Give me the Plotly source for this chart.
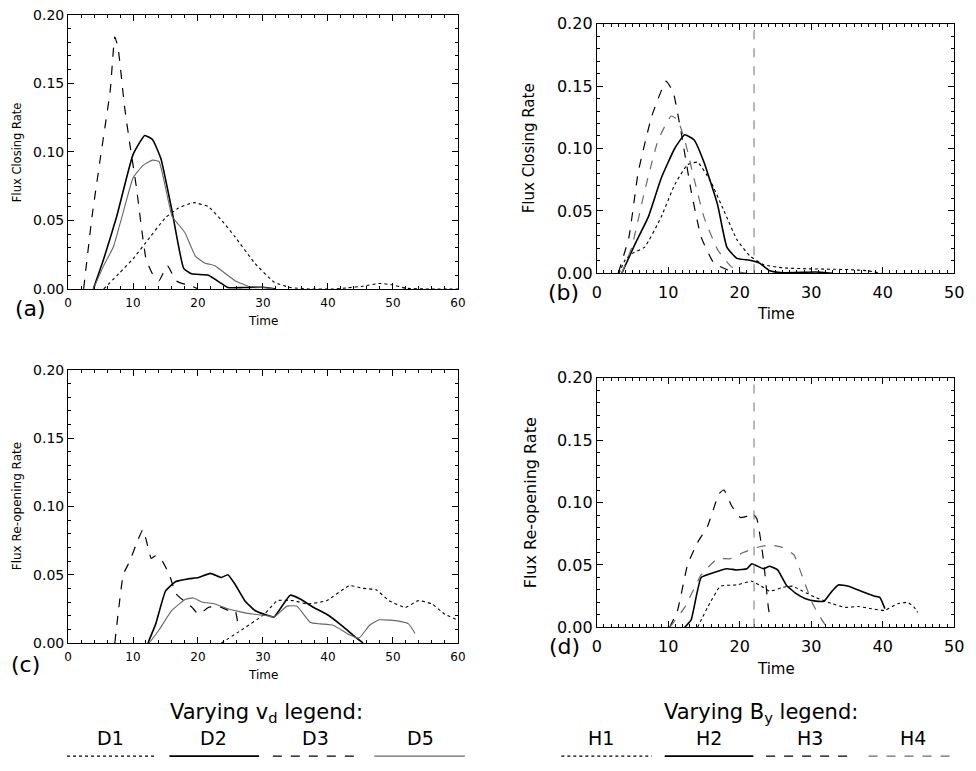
import plotly.graph_objects as go

W, H = 976, 771

# ---- panel (a): flux closing rate, varying v_d ----
a_d1_t = [5.5, 8, 10, 12, 15, 17, 19.3, 21.6, 24, 25.7, 28.7, 31.7, 34.2, 37, 40.8, 43, 45.4, 47.9, 49.9, 52, 55, 60]
a_d1_v = [0, 0.012, 0.022, 0.034, 0.052, 0.059, 0.063, 0.060, 0.048, 0.038, 0.019, 0.005, 0.001, 0, 0, 0.0008, 0.002, 0.004, 0.003, 0.0005, 0, 0]
a_d2_t = [3.9, 5.5, 7.5, 10, 11.8, 13, 14.3, 16, 17.8, 19, 21.6, 23.6, 24.6, 27, 30, 32]
a_d2_v = [0, 0.022, 0.053, 0.098, 0.112, 0.109, 0.095, 0.057, 0.015, 0.011, 0.010, 0.004, 0.001, 0.001, 0.0012, 0]
a_d3_t = [2.4, 3.7, 4.9, 6.5, 7.2, 7.7, 8.7, 9.5, 10.5, 11.3, 12, 13, 14, 15.3, 16.6, 17.5, 18.6, 20]
a_d3_v = [0, 0.053, 0.093, 0.145, 0.184, 0.176, 0.133, 0.106, 0.075, 0.045, 0.022, 0.011, 0.006, 0.017, 0.006, 0.004, 0.003, 0]
a_d5_t = [3.9, 5.5, 7, 8.5, 10, 11.5, 13, 14, 15, 16, 17, 18, 19.6, 21, 22.6, 24, 25.7, 27.7, 30, 31.7]
a_d5_v = [0, 0.017, 0.031, 0.056, 0.081, 0.090, 0.094, 0.093, 0.074, 0.053, 0.047, 0.041, 0.024, 0.019, 0.017, 0.012, 0.006, 0.002, 0.001, 0]

# ---- panel (b): flux closing rate, varying B_y ----
b_h1_t = [3.1, 4, 5, 6.7, 9, 10.9, 12.7, 14.1, 15.9, 17.8, 19.6, 21.4, 23.3, 26, 29.7, 35.2, 38, 39.8]
b_h1_v = [0, 0.011, 0.016, 0.021, 0.045, 0.071, 0.087, 0.089, 0.074, 0.050, 0.027, 0.014, 0.007, 0.0044, 0.0036, 0.003, 0.002, 0]
b_h2_t = [3.5, 5.4, 7.2, 9, 10.9, 12.3, 13.6, 15, 16.9, 18.2, 19.6, 21.4, 22.8, 24.2, 26, 30.6, 33]
b_h2_v = [0, 0.024, 0.045, 0.076, 0.100, 0.111, 0.107, 0.089, 0.055, 0.021, 0.012, 0.0104, 0.008, 0.002, 0.0005, 0.001, 0]
b_h3_t = [3, 4.5, 5.8, 7.7, 9.7, 10.7, 11.8, 13.2, 14.6, 16.4, 18.2, 19.6]
b_h3_v = [0, 0.029, 0.081, 0.126, 0.154, 0.145, 0.113, 0.066, 0.029, 0.008, 0.003, 0]
b_h4_t = [3.5, 4.9, 6.7, 8.6, 10.4, 11.3, 12.3, 13.6, 15, 16.9, 18.7, 20, 21]
b_h4_v = [0, 0.021, 0.066, 0.107, 0.126, 0.123, 0.107, 0.076, 0.045, 0.019, 0.006, 0.001, 0]

# ---- panel (c): flux re-opening rate, varying v_d ----
c_d1_t = [23.6, 26.7, 30.2, 32.2, 34.7, 36.8, 39.8, 43.3, 45.4, 47.4, 49.4, 51.9, 53.9, 56, 58, 60]
c_d1_v = [0, 0.0095, 0.021, 0.031, 0.031, 0.0286, 0.031, 0.042, 0.040, 0.039, 0.031, 0.026, 0.031, 0.0286, 0.021, 0.0167]
c_d2_t = [12.3, 13.5, 15, 16.6, 18.6, 20.1, 21.9, 23.6, 24.6, 25.7, 27.2, 28.7, 30.2, 31.7, 34.2, 35.8, 37.8, 39.8, 41.8, 43.8, 45.4]
c_d2_v = [0, 0.014, 0.038, 0.045, 0.047, 0.048, 0.051, 0.048, 0.050, 0.043, 0.031, 0.024, 0.021, 0.019, 0.035, 0.032, 0.026, 0.021, 0.014, 0.006, 0]
c_d3_t = [7.2, 7.7, 8.5, 9.5, 10.8, 11.5, 12, 12.8, 13.5, 14.5, 15.6, 16.6, 17.8, 19.1, 20.1, 21.6, 23.1, 24.6, 25.7, 26.2]
c_d3_v = [0, 0.021, 0.050, 0.060, 0.076, 0.083, 0.076, 0.062, 0.064, 0.060, 0.050, 0.036, 0.031, 0.026, 0.021, 0.026, 0.027, 0.024, 0.024, 0.012]
c_d5_t = [12.5, 14, 16, 18.1, 19.3, 20.6, 22.6, 24.6, 26.7, 28.7, 30.7, 31.7, 33.7, 35.2, 37.3, 38.8, 40.8, 43.3, 44.8, 46.4, 47.9, 50.9, 52.4, 53.4]
c_d5_v = [0, 0.0095, 0.024, 0.032, 0.033, 0.030, 0.0286, 0.025, 0.0226, 0.021, 0.020, 0.019, 0.027, 0.027, 0.015, 0.014, 0.013, 0.006, 0.0036, 0.013, 0.017, 0.016, 0.014, 0.007]

# ---- panel (d): flux re-opening rate, varying B_y ----
d_h1_t = [14.1, 15.5, 17.3, 19.6, 21.7, 23.3, 24.2, 26, 27.4, 28.8, 30.6, 32.9, 34.8, 36.6, 38.4, 40.3, 42.1, 43.5, 44.4, 44.9]
d_h1_v = [0, 0.016, 0.033, 0.034, 0.037, 0.032, 0.029, 0.032, 0.033, 0.029, 0.024, 0.019, 0.016, 0.0167, 0.015, 0.0136, 0.019, 0.020, 0.016, 0.012]
d_h2_t = [12.3, 13.2, 14.6, 16.4, 18.2, 19.6, 21, 21.7, 23.3, 24.2, 25.3, 26.5, 27.9, 29.2, 30.6, 31.8, 32.9, 33.8, 35.2, 37, 38.9, 39.6, 40.3]
d_h2_v = [0, 0.006, 0.040, 0.044, 0.047, 0.046, 0.047, 0.051, 0.047, 0.049, 0.046, 0.034, 0.027, 0.023, 0.021, 0.021, 0.029, 0.034, 0.033, 0.029, 0.025, 0.024, 0.015]
d_h3_t = [10.2, 11.3, 12.7, 14.1, 15.5, 17.1, 17.8, 18.9, 20.1, 21, 21.7, 22.4, 23.3, 24, 24.3]
d_h3_v = [0, 0.0136, 0.050, 0.068, 0.081, 0.107, 0.110, 0.097, 0.088, 0.089, 0.092, 0.087, 0.055, 0.016, 0.006]
d_h4_t = [10.2, 12.3, 14.6, 16.9, 18.7, 20.5, 22.4, 24.2, 26, 27.6, 28.8, 30.2, 31.5, 32.2]
d_h4_v = [0, 0.016, 0.042, 0.055, 0.055, 0.060, 0.064, 0.066, 0.064, 0.058, 0.040, 0.019, 0.006, 0]

marker_time = 22  # vertical dashed line in (b) and (d)

FONT = "DejaVu Sans, sans-serif"

STY = {
    "dot": dict(color="black", width=1.1, dash="dot"),
    "solid": dict(color="black", width=1.6),
    "dash": dict(color="black", width=1.2, dash="dash"),
    "grey": dict(color="#666666", width=1.1),
    "greydash": dict(color="#6a6a6a", width=1.2, dash="dash"),
}


def px_x(x):
    return x / W


def px_y(y):
    return 1 - y / H


def label(text, x, y, size, angle=0):
    fig.add_annotation(text=text, x=px_x(x), y=px_y(y), xref="paper", yref="paper", showarrow=False,
                       xanchor="center", yanchor="middle", textangle=angle,
                       font=dict(family=FONT, size=size, color="black"))


fig = go.Figure()

panels = [
    dict(suf="", series=[(a_d1_t, a_d1_v, "dot"), (a_d2_t, a_d2_v, "solid"), (a_d3_t, a_d3_v, "dash"), (a_d5_t, a_d5_v, "grey")],
         box=(64, 460, 6, 287), xmax=60, xminor=2, xfs=12, yfs=14, xsd=3,
         ytitle="Flux Closing Rate", yt=(13, 147, 11.5), xt=(262, 320, 12), tag=("(a)", 26, 307)),
    dict(suf="2", series=[(b_h1_t, b_h1_v, "dot"), (b_h2_t, b_h2_v, "solid"), (b_h3_t, b_h3_v, "dash"), (b_h4_t, b_h4_v, "greydash")],
         box=(601, 964, 15, 271), xmax=50, xminor=1, xfs=16, yfs=16, xsd=4,
         ytitle="Flux Closing Rate", yt=(533, 143, 15), xt=(783, 313, 15), tag=("(b)", 567, 291)),
    dict(suf="3", series=[(c_d1_t, c_d1_v, "dot"), (c_d2_t, c_d2_v, "solid"), (c_d3_t, c_d3_v, "dash"), (c_d5_t, c_d5_v, "grey")],
         box=(64, 460, 370, 650), xmax=60, xminor=2, xfs=12, yfs=14, xsd=3,
         ytitle="Flux Re-opening Rate", yt=(13, 510, 12), xt=(262, 683, 12), tag=("(c)", 21, 672)),
    dict(suf="4", series=[(d_h1_t, d_h1_v, "dot"), (d_h2_t, d_h2_v, "solid"), (d_h3_t, d_h3_v, "dash"), (d_h4_t, d_h4_v, "greydash")],
         box=(601, 964, 378, 634), xmax=50, xminor=1, xfs=16, yfs=16, xsd=4,
         ytitle="Flux Re-opening Rate", yt=(534, 506, 16), xt=(783, 677, 15), tag=("(d)", 568, 654)),
]

for p in panels:
    suf = p["suf"]
    for t, v, s in p["series"]:
        fig.add_trace(go.Scatter(x=t, y=v, mode="lines", line=dict(shape="spline", smoothing=0.4, **STY[s]),
                                 xaxis="x" + suf, yaxis="y" + suf, showlegend=False, hoverinfo="skip"))
    l, r, tp, bt = p["box"]
    common = dict(showline=True, linecolor="black", linewidth=1, mirror="allticks", ticks="inside",
                  ticklen=6, tickcolor="black", showgrid=False, zeroline=False)
    fig.layout["xaxis" + suf] = dict(
        domain=[px_x(l), px_x(r)], anchor="y" + suf, range=[0, p["xmax"]], dtick=10,
        minor=dict(dtick=p["xminor"], ticklen=3, ticks="inside", tickcolor="black"),
        tickfont=dict(family=FONT, size=p["xfs"], color="black"), ticklabelstandoff=p["xsd"],
        **common)
    fig.layout["yaxis" + suf] = dict(
        domain=[px_y(bt), px_y(tp)], anchor="x" + suf, range=[0, 0.2], dtick=0.05, tickformat=".2f",
        minor=dict(dtick=0.01, ticklen=3, ticks="inside", tickcolor="black"),
        tickfont=dict(family=FONT, size=p["yfs"], color="black"), ticklabelstandoff=0,
        **common)
    yx, yy, ys = p["yt"]
    label(p["ytitle"], yx, yy, ys, angle=-90)
    xx, xy, xs = p["xt"]
    label("Time", xx, xy, xs)
    txt, tx, ty = p["tag"]
    label(txt, tx, ty, 22)

# vertical dashed reference line in (b) and (d)
for suf in ["2", "4"]:
    fig.add_shape(type="line", xref="x" + suf, yref="y" + suf + " domain", x0=marker_time, x1=marker_time,
                  y0=0, y1=1, line=dict(color="#888888", width=1.2, dash="dash"))

# legends below the panels
legend_groups = [
    ("Varying v<sub>d</sub> legend:", 266, ["D1", "D2", "D3", "D5"], [107, 212, 315, 422],
     [(63, 153), (167, 258), (272, 360), (375, 467)], ["dot", "solid", "dash", "grey"]),
    ("Varying B<sub>y</sub> legend:", 768, ["H1", "H2", "H3", "H4"], [605, 715, 818, 922],
     [(565, 657), (670, 760), (773, 860), (877, 965)], ["dot", "solid", "dash", "greydash"]),
]
for head, hx, names, nx, segs, styles in legend_groups:
    label(head, hx, 722, 21)
    for n, x, (s0, s1), s in zip(names, nx, segs, styles):
        label(n, x, 747, 19)
        fig.add_shape(type="line", xref="paper", yref="paper", x0=px_x(s0), x1=px_x(s1),
                      y0=px_y(766), y1=px_y(766), line=STY[s])

fig.update_layout(width=W, height=H, margin=dict(l=0, r=0, t=0, b=0),
                  plot_bgcolor="white", paper_bgcolor="white",
                  font=dict(family=FONT, color="black"))

# drop the default 8px page margin so the figure sits at the window origin
fig.write_html("out.html", config={"displayModeBar": False},
               post_script="document.body.style.margin = '0';")
